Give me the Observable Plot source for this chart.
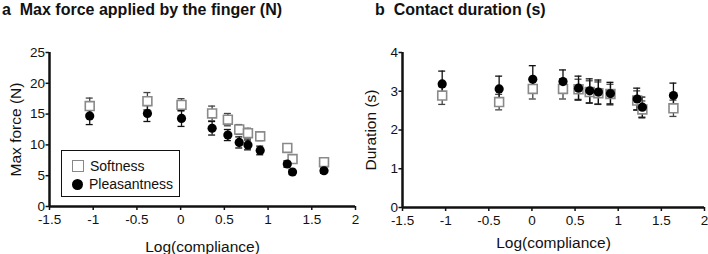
<!DOCTYPE html>
<html>
<head>
<meta charset="utf-8">
<script src="https://cdn.jsdelivr.net/npm/d3@7"></script>
<script src="https://cdn.jsdelivr.net/npm/@observablehq/plot@0.6"></script>
<style>
  body { margin: 0; background: white; font-family: "Liberation Sans", Arial, sans-serif; }
  #wrap { position: relative; width: 708px; height: 254px; overflow: hidden; background: white; }
  .title { position: absolute; top: 0; font-weight: bold; font-size: 16px; line-height: 19px; white-space: nowrap; color: #111; }
  .panel { position: absolute; top: 24px; }
  .panel svg { background: transparent !important; overflow: visible; }
  #legend { position: absolute; left: 61px; top: 150px; width: 119px; height: 47px; border: 1.5px solid #111; box-sizing: border-box; font-size: 14px; color: #111; }
  .lrow { position: absolute; left: 10px; height: 18px; line-height: 18px; white-space: nowrap; }
  .lsq { display: inline-block; width: 10px; height: 10px; border: 1.5px solid #888; background: white; vertical-align: -1px; margin-right: 6px; }
  .lci { display: inline-block; width: 11px; height: 11px; border-radius: 50%; background: #000; vertical-align: -1px; margin-right: 6px; }
</style>
</head>
<body>
<div id="wrap">
  <div class="title" style="left:2px">a&nbsp;&nbsp;Max force applied by the finger (N)</div>
  <div class="title" style="left:375px">b&nbsp;&nbsp;Contact duration (s)</div>
  <div class="panel" id="pa" style="left:0px"></div>
  <div class="panel" id="pb" style="left:354px"></div>
  <div id="legend">
    <div class="lrow" style="top:6px"><span class="lsq"></span>Softness</div>
    <div class="lrow" style="top:24px"><span class="lci"></span>Pleasantness</div>
  </div>
</div>
<script>
// Data
const logCompliance = [-1.04, -0.38, 0.01, 0.36, 0.54, 0.67, 0.77, 0.91, 1.22, 1.28, 1.64];

const forceSoft    = [16.3, 17.1, 16.5, 15.1, 14.1, 12.5, 11.9, 11.4, 9.5, 7.7, 7.2];
const forceSoftSE  = [1.3, 1.4, 1.0, 1.2, 1.0, 0.8, 0.8, 0.7, 0.6, 0.5, 0.5];
const forcePleas   = [14.7, 15.1, 14.3, 12.7, 11.6, 10.4, 10.0, 9.1, 6.9, 5.6, 5.8];
const forcePleasSE = [1.4, 1.3, 1.3, 1.1, 0.9, 0.9, 0.8, 0.7, 0.5, 0.4, 0.4];

const durSoft    = [2.89, 2.72, 3.06, 3.06, 3.05, 2.98, 2.95, 2.93, 2.76, 2.53, 2.56];
const durSoftSE  = [0.23, 0.20, 0.26, 0.26, 0.26, 0.29, 0.29, 0.25, 0.25, 0.22, 0.21];
const durPleas   = [3.19, 3.06, 3.31, 3.25, 3.08, 3.01, 2.98, 2.94, 2.80, 2.59, 2.89];
const durPleasSE = [0.33, 0.33, 0.35, 0.30, 0.31, 0.31, 0.31, 0.29, 0.28, 0.26, 0.32];

const xTicks = [-1.5, -1, -0.5, 0, 0.5, 1, 1.5, 2];
const forceTicks = [0, 5, 10, 15, 20, 25];
const durTicks = [0, 1, 2, 3, 4];

function rows(vals, se) {
  return logCompliance.map((x, i) => ({x, y: vals[i], lo: vals[i] - se[i], hi: vals[i] + se[i]}));
}

function errMarks(data, color) {
  return [
    Plot.ruleX(data, {x: "x", y1: "lo", y2: "hi", stroke: color, strokeWidth: 1.3}),
    Plot.ruleY(data, {y: "hi", x1: "x", x2: "x", insetLeft: -3.5, insetRight: -3.5, stroke: color, strokeWidth: 1.3}),
    Plot.ruleY(data, {y: "lo", x1: "x", x2: "x", insetLeft: -3.5, insetRight: -3.5, stroke: color, strokeWidth: 1.3})
  ];
}

function panel({soft, pleas, yDomain, yTicks, yLabel, width, ml, mr, mb, xLabelOffset, yLabelOffset}) {
  return Plot.plot({
    width, height: 230,
    marginLeft: ml, marginRight: mr, marginTop: 28, marginBottom: mb,
    style: {fontFamily: "Liberation Sans, Arial, sans-serif", fontSize: "13px", color: "#111", background: "transparent", overflow: "visible"},
    x: {domain: [-1.5, 2]},
    y: {domain: yDomain},
    marks: [
      Plot.axisX({ticks: xTicks, tickFormat: d => String(d), tickSize: 4, tickPadding: 4, fontSize: 13,
        label: "Log(compliance)", labelAnchor: "center", labelArrow: "none", labelOffset: xLabelOffset, strokeWidth: 1.5}),
      Plot.axisY({ticks: yTicks, tickFormat: d => String(d), tickSize: 3.5, tickPadding: 1, fontSize: 13,
        label: yLabel, labelAnchor: "center", labelArrow: "none", labelOffset: yLabelOffset, strokeWidth: 1.5}),
      Plot.ruleY([yDomain[0]], {stroke: "#111", strokeWidth: 2.5}),
      Plot.ruleX([-1.5], {stroke: "#111", strokeWidth: 2.5}),
      ...errMarks(soft, "#444"),
      ...errMarks(pleas, "#111"),
      Plot.dot(soft, {x: "x", y: "y", symbol: "square", r: 5, fill: "white", stroke: "#8a8a8a", strokeWidth: 1.6}),
      Plot.dot(pleas, {x: "x", y: "y", r: 4.6, fill: "#000", stroke: "none"})
    ]
  });
}

function styleText(svg) {
  svg.querySelectorAll("g[aria-label]").forEach(g => {
    const lab = g.getAttribute("aria-label");
    if (/tick label/.test(lab)) {
      g.querySelectorAll("text").forEach(t => { t.style.fontSize = "13.5px"; t.style.fontFamily = "Liberation Sans, Arial, sans-serif"; });
    } else if (/axis label/.test(lab)) {
      g.querySelectorAll("text").forEach(t => { t.style.fontSize = "15.5px"; t.style.fontFamily = "Liberation Sans, Arial, sans-serif"; });
    }
  });
}

const a = panel({
  soft: rows(forceSoft, forceSoftSE), pleas: rows(forcePleas, forcePleasSE),
  yDomain: [0, 25], yTicks: forceTicks, yLabel: "Max force (N)",
  width: 366, ml: 49, mr: 11, mb: 48, xLabelOffset: 45, yLabelOffset: 40
});
const b = panel({
  soft: rows(durSoft, durSoftSE), pleas: rows(durPleas, durPleasSE),
  yDomain: [0, 4], yTicks: durTicks, yLabel: "Duration (s)",
  width: 354, ml: 48, mr: 4, mb: 47, xLabelOffset: 40, yLabelOffset: 38
});
styleText(a);
styleText(b);
document.getElementById("pa").appendChild(a);
document.getElementById("pb").appendChild(b);
</script>
</body>
</html>
